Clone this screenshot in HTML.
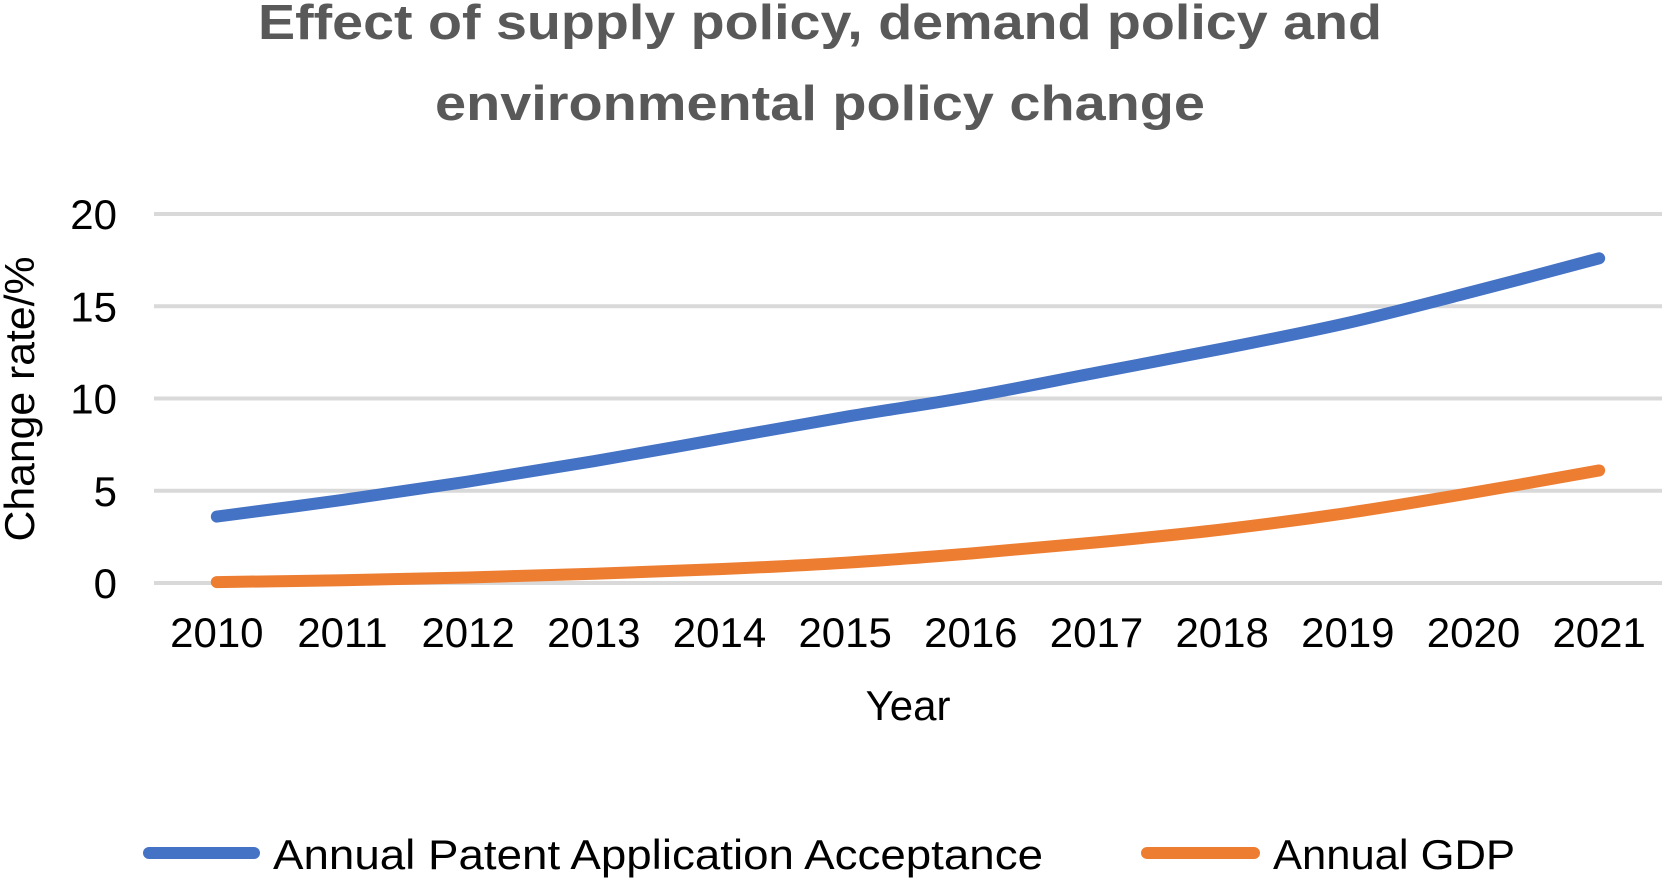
<!DOCTYPE html>
<html><head><meta charset="utf-8"><style>
html,body{margin:0;padding:0;background:#fff;}
svg{display:block;font-family:"Liberation Sans",sans-serif;}
</style></head><body>
<svg id="chart" width="1667" height="878" viewBox="0 0 1667 878">
<text x="820" y="39" text-anchor="middle" font-size="49" font-weight="bold" fill="#595959" textLength="1124" lengthAdjust="spacingAndGlyphs">Effect of supply policy, demand policy and</text>
<text x="820" y="120" text-anchor="middle" font-size="49" font-weight="bold" fill="#595959" textLength="770" lengthAdjust="spacingAndGlyphs">environmental policy change</text>
<g id="grid"></g>
<g id="yticks"></g>
<g id="xticks"></g>
<g id="series"></g>
<text x="908" y="720" text-anchor="middle" font-size="42" fill="#000">Year</text>
<text transform="translate(34,399) rotate(-90)" text-anchor="middle" font-size="42" fill="#000" textLength="285" lengthAdjust="spacingAndGlyphs">Change rate/%</text>
<g>
<line x1="149" y1="853" x2="254" y2="853" stroke="#4472C4" stroke-width="12" stroke-linecap="round"/>
<text x="273" y="869" font-size="42" fill="#000" textLength="770" lengthAdjust="spacingAndGlyphs">Annual Patent Application Acceptance</text>
<line x1="1147" y1="853" x2="1254" y2="853" stroke="#ED7D31" stroke-width="12" stroke-linecap="round"/>
<text x="1273" y="869" font-size="42" fill="#000" textLength="242" lengthAdjust="spacingAndGlyphs">Annual GDP</text>
</g>
</svg>
<script>
const years = ["2010","2011","2012","2013","2014","2015","2016","2017","2018","2019","2020","2021"];
const patentValues = [3.6,4.5,5.5,6.6,7.8,9.0,10.1,11.4,12.7,14.1,15.8,17.6];
const gdpValues = [0.05,0.15,0.3,0.5,0.75,1.1,1.6,2.2,2.9,3.8,4.9,6.1];
const yTicks = [0,5,10,15,20];

const NS = "http://www.w3.org/2000/svg";
const plotL = 154, plotR = 1662, plotT = 214, plotB = 583, yMax = 20;
const band = (plotR - plotL) / years.length;
function xPos(i){ return plotL + band * (i + 0.5); }
function yPos(v){ return plotB - (v / yMax) * (plotB - plotT); }
function mk(tag, attrs, parent){ const e = document.createElementNS(NS, tag); for (const k in attrs) e.setAttribute(k, attrs[k]); parent.appendChild(e); return e; }

const grid = document.getElementById('grid'), yt = document.getElementById('yticks'), xt = document.getElementById('xticks'), ser = document.getElementById('series');
yTicks.forEach(t => {
  const l = mk('line', {x1: plotL, x2: plotR, y1: yPos(t), y2: yPos(t), stroke: '#d9d9d9', 'stroke-width': 4}, grid);
  
  
  const tx = mk('text', {x: 117, y: yPos(t) + 15, 'text-anchor': 'end', 'font-size': 42, fill: '#000'}, yt);
  tx.textContent = t;
  
  
});
years.forEach((y, i) => {
  const tx = mk('text', {x: xPos(i), y: 647, 'text-anchor': 'middle', 'font-size': 42, fill: '#000'}, xt);
  tx.textContent = y;
  
  
});
function smoothPath(vals){
  const p = vals.map((v, i) => [xPos(i), yPos(v)]);
  let d = 'M' + p[0][0] + ',' + p[0][1];
  for (let i = 0; i < p.length - 1; i++) {
    const p0 = p[i - 1] || p[i], p1 = p[i], p2 = p[i + 1], p3 = p[i + 2] || p2;
    const c1 = [p1[0] + (p2[0] - p0[0]) / 6, p1[1] + (p2[1] - p0[1]) / 6];
    const c2 = [p2[0] - (p3[0] - p1[0]) / 6, p2[1] - (p3[1] - p1[1]) / 6];
    d += ' C' + c1.join(',') + ' ' + c2.join(',') + ' ' + p2.join(',');
  }
  return d;
}
const gdp = mk('path', {d: smoothPath(gdpValues), fill: 'none', stroke: '#ED7D31', 'stroke-width': 12, 'stroke-linecap': 'round', 'stroke-linejoin': 'round'}, ser);


const pat = mk('path', {d: smoothPath(patentValues), fill: 'none', stroke: '#4472C4', 'stroke-width': 12, 'stroke-linecap': 'round', 'stroke-linejoin': 'round'}, ser);


</script>
</body></html>
